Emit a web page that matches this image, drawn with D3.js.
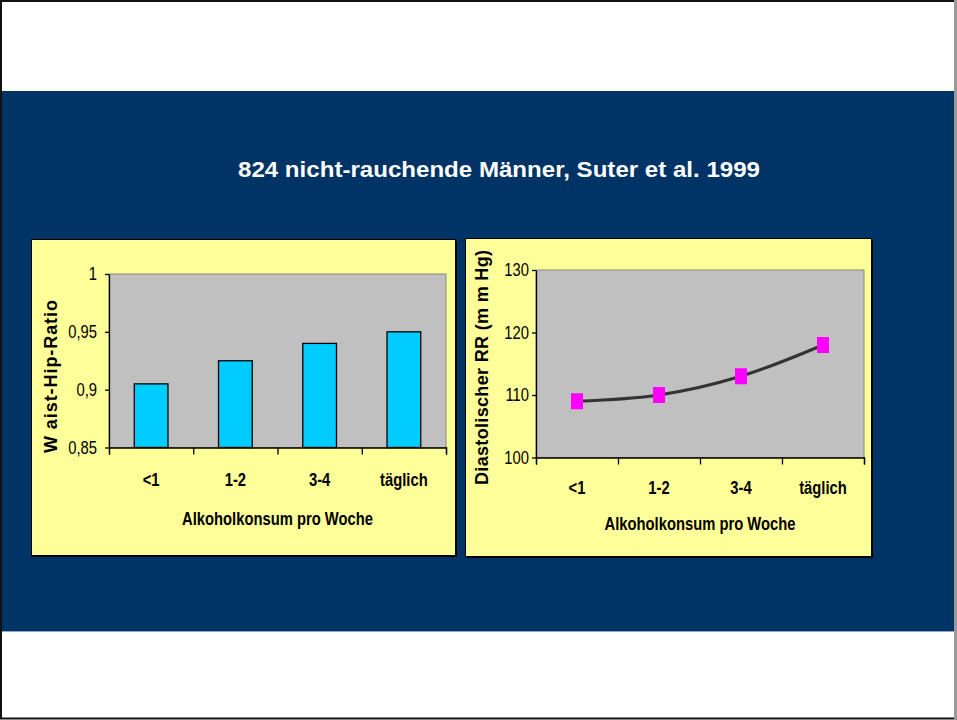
<!DOCTYPE html>
<html>
<head>
<meta charset="utf-8">
<script src="https://cdn.jsdelivr.net/npm/d3@7"></script>
<style>
  html, body { margin: 0; padding: 0; background: #fff; }
  svg { display: block; }
  text { font-family: "Liberation Sans", Arial, sans-serif; }
</style>
</head>
<body>
<svg id="slide" width="957" height="720"></svg>
<script>
// Alkoholkonsum pro Woche (categories shared by both charts)
const categories = ["<1", "1-2", "3-4", "täglich"];
// Waist-Hip-Ratio per category
const whrValues = [0.905, 0.925, 0.94, 0.95];
const whrTicks = [0.85, 0.9, 0.95, 1];
// Diastolischer Blutdruck (mmHg) per category
const dbpValues = [109, 110, 113, 118];
const dbpTicks = [100, 110, 120, 130];

const titleText = "824 nicht-rauchende Männer, Suter et al. 1999";
const xTitleText = "Alkoholkonsum pro Woche";
const whrTitleText = "W aist-Hip-Ratio";
const dbpTitleText = "Diastolischer RR (m m Hg)";

const svg = d3.select("#slide");
const W = 957, H = 720;

// condensed look: squeeze glyphs horizontally to ~82% of their natural width
function narrow(sel) {
  sel.each(function () {
    const len = this.getComputedTextLength();
    d3.select(this).attr("textLength", len * 0.82).attr("lengthAdjust", "spacingAndGlyphs");
  });
}

// slide background and frame
svg.append("rect").attr("x", 0).attr("y", 0).attr("width", W).attr("height", H).attr("fill", "#fff");
svg.append("rect").attr("x", 0).attr("y", 91).attr("width", W).attr("height", 540).attr("fill", "#003366");
svg.append("line").attr("x1", 0).attr("x2", W).attr("y1", 631.5).attr("y2", 631.5)
  .attr("stroke", "#8fa8c8").attr("stroke-width", 1);
svg.append("rect").attr("x", 1).attr("y", 1).attr("width", W - 2.5).attr("height", H - 2.5)
  .attr("fill", "none").attr("stroke", "#111").attr("stroke-width", 2);
svg.append("line").attr("x1", W - 1.5).attr("x2", W - 1.5).attr("y1", 0).attr("y2", H)
  .attr("stroke", "#999").attr("stroke-width", 3);

svg.append("text")
  .attr("x", 499).attr("y", 176.5)
  .attr("text-anchor", "middle")
  .attr("fill", "#fff").attr("font-weight", "bold").attr("font-size", 21.5)
  .attr("textLength", 522).attr("lengthAdjust", "spacingAndGlyphs")
  .text(titleText);

const comma = d => String(d).replace(".", ",");

function panel(box) {
  const g = svg.append("g");
  g.append("rect").attr("x", box.x + 2).attr("y", box.y + 2)
    .attr("width", box.w).attr("height", box.h).attr("fill", "#000");
  g.append("rect").attr("x", box.x + 0.5).attr("y", box.y + 0.5)
    .attr("width", box.w).attr("height", box.h)
    .attr("fill", "#ffff99").attr("stroke", "#000").attr("stroke-width", 1);
  return g;
}

function frame(g, p, y, yTicks, fmt, tickLabelGap, labelY, titleY, yTitle) {
  // plot area
  g.append("rect").attr("x", p.l).attr("y", p.t).attr("width", p.r - p.l).attr("height", p.b - p.t)
    .attr("fill", "#c0c0c0").attr("stroke", "#888").attr("stroke-width", 1);

  // y axis
  const ya = g.append("g").attr("transform", `translate(${p.l},0)`)
    .call(d3.axisLeft(y).tickValues(yTicks).tickFormat(fmt).tickSizeInner(4).tickSizeOuter(0).tickPadding(tickLabelGap));
  ya.select(".domain").attr("stroke", "#000").attr("stroke-width", 1.3);
  ya.selectAll(".tick line").attr("stroke", "#000").attr("stroke-width", 1.3);
  ya.selectAll(".tick text")
    .attr("font-family", "'Liberation Sans', Arial, sans-serif")
    .attr("font-size", 18).attr("fill", "#000")
    .call(narrow);

  // x axis: boundary ticks between categories
  const bounds = d3.scaleLinear().domain([0, categories.length]).range([p.l, p.r]);
  const xa = g.append("g").attr("transform", `translate(0,${p.b})`)
    .call(d3.axisBottom(bounds).ticks(categories.length).tickFormat("").tickSizeInner(7).tickSizeOuter(7));
  xa.select(".domain").attr("stroke", "#000").attr("stroke-width", 1.3);
  xa.selectAll(".tick line").attr("stroke", "#000").attr("stroke-width", 1.3);

  // category labels
  const centers = d3.scalePoint().domain(categories).range([p.l, p.r]).padding(0.5);
  g.append("g").selectAll("text").data(categories).join("text")
    .attr("x", d => centers(d)).attr("y", labelY)
    .attr("text-anchor", "middle").attr("font-weight", "bold").attr("font-size", 18)
    .text(d => d)
    .call(narrow);

  g.append("text")
    .attr("x", (p.l + p.r) / 2).attr("y", titleY)
    .attr("text-anchor", "middle").attr("font-weight", "bold").attr("font-size", 18)
    .text(xTitleText)
    .call(narrow);

  g.append("text")
    .attr("transform", `translate(${yTitle.x},${yTitle.cy}) rotate(-90)`)
    .attr("text-anchor", "middle").attr("font-weight", "bold").attr("font-size", 18)
    .attr("textLength", yTitle.len).attr("lengthAdjust", "spacing")
    .text(yTitle.text);
  return centers;
}

// ---- left chart: Waist-Hip-Ratio bars ----
{
  const g = panel({ x: 31, y: 239, w: 424, h: 316 });
  const p = { l: 109, r: 446, t: 274, b: 447.5 };
  const y = d3.scaleLinear().domain([0.85, 1]).range([p.b, p.t]);
  frame(g, p, y, whrTicks, comma, 8, 486, 524.5,
        { x: 56.5, cy: 376.5, len: 153, text: whrTitleText });
  const x = d3.scaleBand().domain(categories).range([p.l, p.r]).paddingInner(0.6).paddingOuter(0.3);
  g.append("g").selectAll("rect").data(whrValues).join("rect")
    .attr("x", (d, i) => x(categories[i]))
    .attr("y", d => y(d))
    .attr("width", x.bandwidth())
    .attr("height", d => y(0.85) - y(d))
    .attr("fill", "#00ccff").attr("stroke", "#000").attr("stroke-width", 1.3);
}

// ---- right chart: diastolic blood pressure line ----
{
  const g = panel({ x: 465, y: 238, w: 406, h: 318 });
  const p = { l: 536, r: 864, t: 270, b: 457.5 };
  const y = d3.scaleLinear().domain([100, 130]).range([p.b, p.t]);
  const x = frame(g, p, y, dbpTicks, d => d, 3, 493.5, 530,
        { x: 488, cy: 367.5, len: 235, text: dbpTitleText });
  const line = d3.line()
    .x((d, i) => x(categories[i]))
    .y(d => y(d))
    .curve(d3.curveCatmullRom.alpha(0.5));
  g.append("path").datum(dbpValues).attr("d", line)
    .attr("fill", "none").attr("stroke", "#333").attr("stroke-width", 3);
  g.append("g").selectAll("rect").data(dbpValues).join("rect")
    .attr("x", (d, i) => x(categories[i]) - 6)
    .attr("y", d => y(d) - 8)
    .attr("width", 12).attr("height", 16)
    .attr("fill", "#ff00ff");
}
</script>
</body>
</html>
